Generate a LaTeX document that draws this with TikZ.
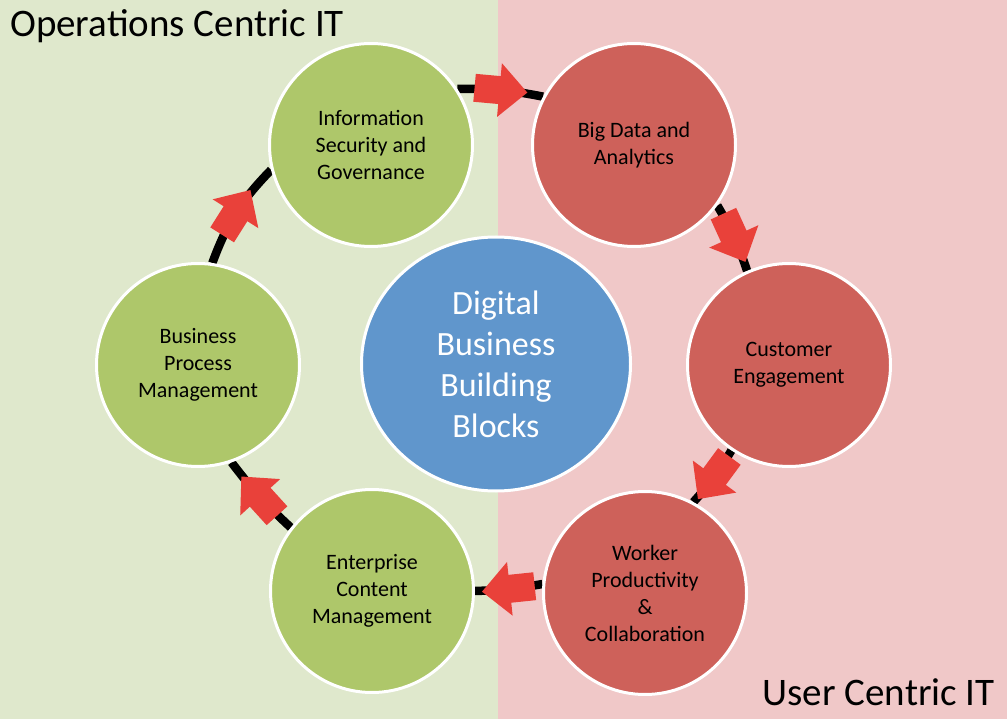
\documentclass[tikz,border=0pt]{standalone}
\usepackage{fontspec}
\setmainfont{Carlito}
\usetikzlibrary{shapes.geometric,decorations.markings}
\pgfdeclarelayer{bg}
\pgfdeclarelayer{lines}
\pgfsetlayers{bg,lines,main}
\definecolor{bggreen}{RGB}{223,232,204}
\definecolor{bgpink}{RGB}{240,200,200}
\definecolor{circgreen}{RGB}{174,199,106}
\definecolor{circred}{RGB}{206,97,90}
\definecolor{circblue}{RGB}{96,150,204}
\definecolor{arrowred}{RGB}{233,65,58}
\tikzset{
  block/.style={circle, draw=white, line width=3pt, minimum size=203pt, inner sep=0pt,
    align=center, text=black, font=\fontsize{22}{27}\selectfont},
  greenblock/.style={block, fill=circgreen},
  redblock/.style={block, fill=circred},
  ring/.style={line width=8.5pt, black},
  arrowmark/.style={postaction={decorate}, decoration={markings, mark=at position 0.5 with
    {\fill[arrowred] (-26pt,-14pt) -- (-1pt,-14pt) -- (-1pt,-27pt) -- (27pt,0pt) -- (-1pt,27pt) -- (-1pt,14pt) -- (-26pt,14pt) -- cycle;}}},
  title/.style={font=\fontsize{39}{46}\selectfont, text=black, inner sep=0pt}
}
\begin{document}
\begin{tikzpicture}[x=1pt,y=-1pt]
\useasboundingbox (0,0) rectangle (1007,719);
\begin{pgfonlayer}{bg}
  \fill[bggreen] (0,0) rectangle (498,719);
  \fill[bgpink] (498,0) rectangle (1007,719);
\end{pgfonlayer}

\node[title, anchor=base west] (optitle) at (10,37) {Operations Centric IT};
\node[title, anchor=base east] (usertitle) at (995,705) {User Centric IT};

\node[greenblock] (info) at (371,145) {Information\\Security and\\Governance};
\node[redblock] (big) at (634,145) {Big Data and\\Analytics};
\node[redblock] (cust) at (789,365) {Customer\\Engagement};
\node[redblock] (work) at (645,593) {Worker\\Productivity\\\&\\Collaboration};
\node[greenblock] (ent) at (372,591) {Enterprise\\Content\\Management};
\node[greenblock] (bp) at (198,365) {Business\\Process\\Management};

\node[ellipse, draw=white, line width=3pt, fill=circblue, minimum width=269pt, minimum height=254pt,
  inner sep=0pt, align=center, text=white, font=\fontsize{34}{41}\selectfont] (hub) at (496,364)
  {Digital\\Business\\Building\\Blocks};

\begin{pgfonlayer}{lines}
  \draw[ring] (info.33) to[bend left=6] (big.152);
  \draw[ring] (big.-36) to[bend left=6] (cust.114);
  \draw[ring] (cust.-124) to[bend left=6] (work.62);
  \draw[ring] (work.175) to[bend left=4] (ent.0);
  \draw[ring] (ent.142) to[bend left=5] (bp.-71);
  \draw[ring] (bp.82) to[bend left=12] (info.194);
\end{pgfonlayer}

\path[arrowmark] (info.33) to[bend left=6] (big.152);
\path[arrowmark] (big.-36) to[bend left=6] (cust.114);
\path[arrowmark] (cust.-124) to[bend left=6] (work.62);
\path[arrowmark] (work.175) to[bend left=4] (ent.0);
\path[arrowmark] (ent.142) to[bend left=5] (bp.-71);
\path[arrowmark] (bp.82) to[bend left=12] (info.194);
\end{tikzpicture}
\end{document}
